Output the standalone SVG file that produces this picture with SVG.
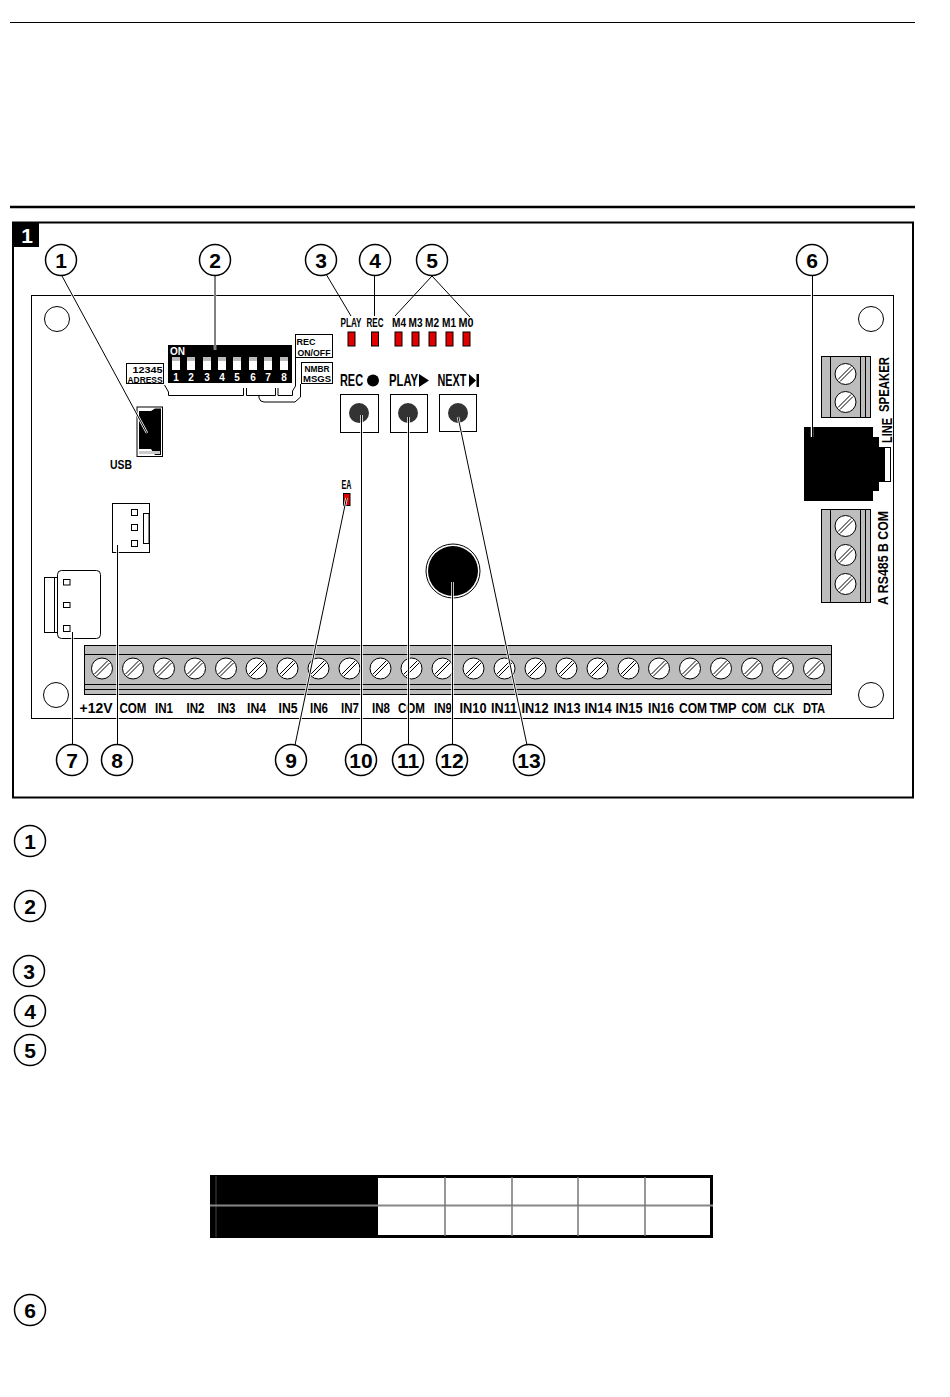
<svg xmlns="http://www.w3.org/2000/svg" xmlns:xlink="http://www.w3.org/1999/xlink" width="950" height="1397" viewBox="0 0 950 1397">
<style>
text{font-family:"Liberation Sans",Arial,sans-serif;font-weight:700;fill:#000}
.t{font-size:15.500px;text-anchor:middle}
.s{font-size:12px;text-anchor:middle}
.s2{font-size:9.500px;text-anchor:middle}
.b{font-size:16.500px;text-anchor:middle}
.n{font-size:21px;text-anchor:middle}
.c{fill:#fff;stroke:#000;stroke-width:1.500}
.o{fill:none;stroke:#000;stroke-width:1}
.box{fill:#fff;stroke:#000;stroke-width:1}
.led{fill:#e00000;stroke:#000;stroke-width:1}
.gray{fill:#bdbdbd;stroke:#000;stroke-width:1}
.pin{fill:#fff;stroke:#000;stroke-width:1}
.halo line{stroke:#fff;stroke-width:2.500}
.lead line{stroke:#000;stroke-width:1}
.sw{fill:#fff}
.swt{fill:#bbb}
.w{fill:#fff;font-size:10px;text-anchor:middle}
</style>
<defs>
<g id="screw"><circle r="10.500" fill="#fff" stroke="#000" stroke-width="1"/><line x1="-7.500" y1="5.500" x2="5.500" y2="-7.500" stroke="#000" stroke-width="1"/><line x1="-5.500" y1="7.500" x2="7.500" y2="-5.500" stroke="#000" stroke-width="1"/></g>
<g id="hole"><circle r="12.500" fill="#fff" stroke="#000" stroke-width="1"/></g>
</defs>
<rect width="950" height="1397" fill="#fff"/>
<g id="page-lines"><line x1="10" y1="22.500" x2="915" y2="22.500" stroke="#000" stroke-width="1"/><line x1="10" y1="207" x2="915" y2="207" stroke="#000" stroke-width="2.500"/></g>
<g id="frame"><rect x="13" y="222.500" width="900" height="575" fill="#fff" stroke="#000" stroke-width="2"/><rect x="12" y="222" width="27" height="25" fill="#000"/><text x="27" y="243" class="n" style="fill:#fff">1</text></g>
<g id="board"><rect x="31.500" y="295.500" width="862" height="423" fill="#fff" stroke="#000" stroke-width="1"/>
<use href="#hole" x="57" y="319"/><use href="#hole" x="871" y="319"/><use href="#hole" x="56" y="695"/><use href="#hole" x="871" y="695"/></g>

<g id="dip-switch">
<rect x="168" y="345" width="124" height="38" fill="#000"/>
<text x="170" y="355" style="fill:#fff;font-size:10px">ON</text>
<rect class="sw" x="172" y="357" width="8" height="13"/><rect class="sw" x="187" y="357" width="8" height="13"/><rect class="sw" x="203" y="357" width="8" height="13"/><rect class="sw" x="218" y="357" width="8" height="13"/><rect class="sw" x="233" y="357" width="8" height="13"/><rect class="sw" x="249" y="357" width="8" height="13"/><rect class="sw" x="264" y="357" width="8" height="13"/><rect class="sw" x="280" y="357" width="8" height="13"/>
<rect class="swt" x="172" y="357" width="8" height="4"/><rect class="swt" x="187" y="357" width="8" height="4"/><rect class="swt" x="203" y="357" width="8" height="4"/><rect class="swt" x="218" y="357" width="8" height="4"/><rect class="swt" x="233" y="357" width="8" height="4"/><rect class="swt" x="249" y="357" width="8" height="4"/><rect class="swt" x="264" y="357" width="8" height="4"/><rect class="swt" x="280" y="357" width="8" height="4"/>
<text class="w" x="176" y="381">1</text><text class="w" x="191" y="381">2</text><text class="w" x="207" y="381">3</text><text class="w" x="222" y="381">4</text><text class="w" x="237" y="381">5</text><text class="w" x="253" y="381">6</text><text class="w" x="268" y="381">7</text><text class="w" x="284" y="381">8</text>
<rect class="box" x="126.500" y="363.500" width="37" height="20"/>
<text class="s2" x="147.500" y="372.500" textLength="30" lengthAdjust="spacingAndGlyphs">12345</text><text class="s2" x="145" y="382.500" textLength="35" lengthAdjust="spacingAndGlyphs">ADRESS</text>
<rect class="box" x="295.500" y="334.500" width="37" height="23"/>
<text class="s2" x="306" y="344.500" textLength="19" lengthAdjust="spacingAndGlyphs">REC</text><text class="s2" x="314" y="355.500" textLength="33" lengthAdjust="spacingAndGlyphs">ON/OFF</text>
<rect class="box" x="301.500" y="362.500" width="31" height="21"/>
<text class="s2" x="317" y="371.500" textLength="25" lengthAdjust="spacingAndGlyphs">NMBR</text><text class="s2" x="317" y="382" textLength="28" lengthAdjust="spacingAndGlyphs">MSGS</text>
<path class="o" d="M164.500 385 L168.500 392 V395.500 H243.500 V388"/>
<path class="o" d="M246.500 388 V395.500 H275.500 V388"/>
<path class="o" d="M278 388 V395.500 H292.500 V391 L295.500 386 V358"/>
<path class="o" d="M259 396 V398 Q260 402 264 402 H295 L300.500 397 V384"/>
</g>

<g id="usb">
<rect x="137" y="407" width="25.500" height="49.500" fill="#fff" stroke="#000" stroke-width="1"/>
<path d="M139 411 H151 L155 408.500 H161 V455 H155 L151 449 H139 Z" fill="#000"/>
<rect x="139" y="451" width="21" height="3" fill="#ccc"/>
<text class="t" x="121" y="469" textLength="22" lengthAdjust="spacingAndGlyphs" style="font-size:13px">USB</text>
</g>

<g id="leds">
<text class="s" x="351" y="327" textLength="21" lengthAdjust="spacingAndGlyphs">PLAY</text><text class="s" x="375" y="327" textLength="17" lengthAdjust="spacingAndGlyphs">REC</text>
<text class="s" x="399" y="327" textLength="14" lengthAdjust="spacingAndGlyphs">M4</text><text class="s" x="415.500" y="327" textLength="14" lengthAdjust="spacingAndGlyphs">M3</text><text class="s" x="432" y="327" textLength="14" lengthAdjust="spacingAndGlyphs">M2</text><text class="s" x="449" y="327" textLength="14" lengthAdjust="spacingAndGlyphs">M1</text><text class="s" x="466" y="327" textLength="15" lengthAdjust="spacingAndGlyphs">M0</text>
<rect class="led" x="348" y="332" width="7" height="14"/><rect class="led" x="371.500" y="332" width="7" height="14"/><rect class="led" x="395" y="332" width="7" height="14"/><rect class="led" x="412" y="332" width="7" height="14"/><rect class="led" x="429" y="332" width="7" height="14"/><rect class="led" x="446" y="332" width="7" height="14"/><rect class="led" x="463" y="332" width="7" height="14"/>
</g>

<g id="buttons">
<text class="b" x="351.500" y="386" textLength="23" lengthAdjust="spacingAndGlyphs">REC</text><circle cx="373" cy="380.500" r="6" fill="#000"/>
<text class="b" x="403.500" y="386" textLength="29" lengthAdjust="spacingAndGlyphs">PLAY</text><path d="M419 374 L429 380.500 L419 387 Z" fill="#000"/>
<text class="b" x="452" y="386" textLength="29" lengthAdjust="spacingAndGlyphs">NEXT</text><path d="M469 374 L476 380.500 L469 387 Z M476.500 374 H479 V387 H476.500 Z" fill="#000"/>
<rect class="box" x="340.500" y="394.500" width="38" height="38"/><circle cx="359" cy="413" r="10" fill="#333"/>
<rect class="box" x="390.500" y="394.500" width="37" height="38"/><circle cx="408" cy="413" r="10" fill="#333"/>
<rect class="box" x="439.500" y="394.500" width="37" height="37"/><circle cx="458" cy="413" r="10" fill="#333"/>
</g>

<g id="ea-led"><text class="s" x="346.500" y="489" textLength="10" lengthAdjust="spacingAndGlyphs">EA</text><rect class="led" x="343.500" y="493.500" width="6.500" height="12"/></g>
<g id="microphone"><circle cx="453" cy="571" r="27" fill="#fff" stroke="#000" stroke-width="1"/><circle cx="453" cy="571" r="25" fill="#000"/></g>

<g id="connector-8"><rect class="box" x="112.500" y="503.500" width="37" height="49"/><rect class="pin" x="131.500" y="509.500" width="6" height="6"/><rect class="pin" x="131.500" y="524.500" width="6" height="6"/><rect class="pin" x="131.500" y="540.500" width="6" height="6"/><rect class="pin" x="143.500" y="513.500" width="5.500" height="30"/></g>
<g id="connector-7"><rect class="box" x="44.500" y="577.500" width="13" height="55"/><line x1="54.500" y1="577.500" x2="54.500" y2="632.500" stroke="#000"/><rect x="57.500" y="570.500" width="43" height="68" rx="4" fill="#fff" stroke="#000"/><rect class="pin" x="63.500" y="579.500" width="6.500" height="5.500"/><rect class="pin" x="63.500" y="602.500" width="6.500" height="5"/><rect class="pin" x="63.500" y="625.500" width="6.500" height="6"/></g>

<g id="terminal-main">
<rect class="gray" x="84.500" y="645.500" width="747" height="49"/>
<line x1="84.500" y1="654.500" x2="831.500" y2="654.500" stroke="#000"/><line x1="84.500" y1="684.500" x2="831.500" y2="684.500" stroke="#000"/><line x1="84.500" y1="689.500" x2="831.500" y2="689.500" stroke="#000"/>
<use href="#screw" x="102" y="668.500"/><use href="#screw" x="133" y="668.500"/><use href="#screw" x="164" y="668.500"/><use href="#screw" x="195" y="668.500"/><use href="#screw" x="226" y="668.500"/><use href="#screw" x="256.500" y="668.500"/><use href="#screw" x="287.500" y="668.500"/><use href="#screw" x="318.500" y="668.500"/><use href="#screw" x="349.500" y="668.500"/><use href="#screw" x="380.500" y="668.500"/><use href="#screw" x="411.500" y="668.500"/><use href="#screw" x="442.500" y="668.500"/><use href="#screw" x="473.500" y="668.500"/><use href="#screw" x="504.500" y="668.500"/><use href="#screw" x="535.500" y="668.500"/><use href="#screw" x="566.500" y="668.500"/><use href="#screw" x="597.500" y="668.500"/><use href="#screw" x="628.500" y="668.500"/><use href="#screw" x="659" y="668.500"/><use href="#screw" x="690" y="668.500"/><use href="#screw" x="721" y="668.500"/><use href="#screw" x="752" y="668.500"/><use href="#screw" x="783" y="668.500"/><use href="#screw" x="814" y="668.500"/>
<text class="t" x="96" y="713" textLength="33" lengthAdjust="spacingAndGlyphs">+12V</text>
<text class="t" x="133" y="713" textLength="27" lengthAdjust="spacingAndGlyphs">COM</text>
<text class="t" x="164" y="713" textLength="18" lengthAdjust="spacingAndGlyphs">IN1</text>
<text class="t" x="195.500" y="713" textLength="18" lengthAdjust="spacingAndGlyphs">IN2</text>
<text class="t" x="226.500" y="713" textLength="18" lengthAdjust="spacingAndGlyphs">IN3</text>
<text class="t" x="256.500" y="713" textLength="19" lengthAdjust="spacingAndGlyphs">IN4</text>
<text class="t" x="288" y="713" textLength="19" lengthAdjust="spacingAndGlyphs">IN5</text>
<text class="t" x="319" y="713" textLength="18" lengthAdjust="spacingAndGlyphs">IN6</text>
<text class="t" x="350" y="713" textLength="18" lengthAdjust="spacingAndGlyphs">IN7</text>
<text class="t" x="381" y="713" textLength="18" lengthAdjust="spacingAndGlyphs">IN8</text>
<text class="t" x="411.500" y="713" textLength="27" lengthAdjust="spacingAndGlyphs">COM</text>
<text class="t" x="443" y="713" textLength="18" lengthAdjust="spacingAndGlyphs">IN9</text>
<text class="t" x="473" y="713" textLength="27" lengthAdjust="spacingAndGlyphs">IN10</text>
<text class="t" x="504" y="713" textLength="26" lengthAdjust="spacingAndGlyphs">IN11</text>
<text class="t" x="535" y="713" textLength="27" lengthAdjust="spacingAndGlyphs">IN12</text>
<text class="t" x="567" y="713" textLength="27" lengthAdjust="spacingAndGlyphs">IN13</text>
<text class="t" x="598" y="713" textLength="27" lengthAdjust="spacingAndGlyphs">IN14</text>
<text class="t" x="629" y="713" textLength="27" lengthAdjust="spacingAndGlyphs">IN15</text>
<text class="t" x="661" y="713" textLength="26" lengthAdjust="spacingAndGlyphs">IN16</text>
<text class="t" x="693" y="713" textLength="28" lengthAdjust="spacingAndGlyphs">COM</text>
<text class="t" x="723" y="713" textLength="27" lengthAdjust="spacingAndGlyphs">TMP</text>
<text class="t" x="754" y="713" textLength="25" lengthAdjust="spacingAndGlyphs">COM</text>
<text class="t" x="784" y="713" textLength="21" lengthAdjust="spacingAndGlyphs">CLK</text>
<text class="t" x="814" y="713" textLength="22" lengthAdjust="spacingAndGlyphs">DTA</text>
</g>

<g id="terminal-speaker">
<rect class="gray" x="821.500" y="356.500" width="49" height="61"/>
<path class="o" d="M830.500 356.500 V417.500 M860.500 356.500 V417.500 M865.500 356.500 V417.500"/>
<use href="#screw" x="845.500" y="374"/><use href="#screw" x="845.500" y="402"/>
<text class="t" transform="translate(889 384.500) rotate(-90)" textLength="55" lengthAdjust="spacingAndGlyphs">SPEAKER</text>
<text class="t" transform="translate(892 430.500) rotate(-90)" textLength="25" lengthAdjust="spacingAndGlyphs">LINE</text>
</g>
<g id="jack">
<path d="M804 427 H873 V437 H879 V447 H884 V482 H879 V491 H873 V501 H804 Z" fill="#000"/>
<rect x="884.500" y="447.500" width="6" height="34" fill="#fff" stroke="#000"/>
</g>
<g id="terminal-rs485">
<rect class="gray" x="821.500" y="509.500" width="49" height="93"/>
<path class="o" d="M830.500 509.500 V602.500 M860.500 509.500 V602.500 M865.500 509.500 V602.500"/>
<use href="#screw" x="845.500" y="526"/><use href="#screw" x="845.500" y="555"/><use href="#screw" x="845.500" y="584"/>
<text class="t" transform="translate(888 558) rotate(-90)" textLength="94" lengthAdjust="spacingAndGlyphs">A RS485 B COM</text>
</g>

<g id="connectors">
<g class="halo">
<line x1="62" y1="276" x2="147" y2="433"/><line x1="215" y1="276" x2="215" y2="350"/><line x1="812" y1="276" x2="812" y2="437"/>
<line x1="72.500" y1="632" x2="72.500" y2="745"/><line x1="117.500" y1="545" x2="117.500" y2="745"/>
<line x1="295" y1="745" x2="346.500" y2="498"/><line x1="361.500" y1="415" x2="361.500" y2="745"/><line x1="408.500" y1="417" x2="408.500" y2="745"/><line x1="452.500" y1="582" x2="452.500" y2="745"/><line x1="458" y1="417" x2="527" y2="745"/>
</g>
<g class="lead">
<line x1="62" y1="276" x2="147" y2="433"/><line x1="215" y1="276" x2="215" y2="350"/>
<line x1="326" y1="274" x2="351" y2="316"/><line x1="374.500" y1="276" x2="374.500" y2="316"/><line x1="432" y1="276" x2="395" y2="316"/><line x1="432" y1="276" x2="470" y2="317"/>
<line x1="812.500" y1="276" x2="812.500" y2="437"/>
<line x1="72.500" y1="632" x2="72.500" y2="745"/><line x1="117.500" y1="545" x2="117.500" y2="745"/>
<line x1="295" y1="745" x2="346.500" y2="498"/><line x1="361.500" y1="415" x2="361.500" y2="745"/><line x1="408.500" y1="417" x2="408.500" y2="745"/><line x1="452.500" y1="582" x2="452.500" y2="745"/><line x1="458" y1="417" x2="527" y2="745"/>
</g>
</g>

<g id="callout-1"><circle class="c" cx="61" cy="260" r="15.500"/><text class="n" x="61" y="267.500">1</text></g>
<g id="callout-2"><circle class="c" cx="215" cy="260" r="15.500"/><text class="n" x="215" y="267.500">2</text></g>
<g id="callout-3"><circle class="c" cx="321" cy="260" r="15.500"/><text class="n" x="321" y="267.500">3</text></g>
<g id="callout-4"><circle class="c" cx="375" cy="260" r="15.500"/><text class="n" x="375" y="267.500">4</text></g>
<g id="callout-5"><circle class="c" cx="432" cy="260" r="15.500"/><text class="n" x="432" y="267.500">5</text></g>
<g id="callout-6"><circle class="c" cx="812" cy="260" r="15.500"/><text class="n" x="812" y="267.500">6</text></g>
<g id="callout-7"><circle class="c" cx="72" cy="760" r="15.500"/><text class="n" x="72" y="767.500">7</text></g>
<g id="callout-8"><circle class="c" cx="117" cy="760" r="15.500"/><text class="n" x="117" y="767.500">8</text></g>
<g id="callout-9"><circle class="c" cx="291" cy="760" r="15.500"/><text class="n" x="291" y="767.500">9</text></g>
<g id="callout-10"><circle class="c" cx="361" cy="760" r="15.500"/><text class="n" x="361" y="767.500">10</text></g>
<g id="callout-11"><circle class="c" cx="408" cy="760" r="15.500"/><text class="n" x="408" y="767.500">11</text></g>
<g id="callout-12"><circle class="c" cx="452" cy="760" r="15.500"/><text class="n" x="452" y="767.500">12</text></g>
<g id="callout-13"><circle class="c" cx="529" cy="760" r="15.500"/><text class="n" x="529" y="767.500">13</text></g>

<g id="legend-1"><circle class="c" cx="30" cy="841" r="15.500"/><text class="n" x="30" y="848.500">1</text></g>
<g id="legend-2"><circle class="c" cx="30" cy="906" r="15.500"/><text class="n" x="30" y="913.500">2</text></g>
<g id="legend-3"><circle class="c" cx="29" cy="971" r="15.500"/><text class="n" x="29" y="978.500">3</text></g>
<g id="legend-4"><circle class="c" cx="30" cy="1011" r="15.500"/><text class="n" x="30" y="1018.500">4</text></g>
<g id="legend-5"><circle class="c" cx="30" cy="1050" r="15.500"/><text class="n" x="30" y="1057.500">5</text></g>
<g id="legend-6"><circle class="c" cx="30" cy="1310" r="15.500"/><text class="n" x="30" y="1317.500">6</text></g>

<g id="table">
<rect x="211.500" y="1176.500" width="500" height="60" fill="#fff" stroke="#000" stroke-width="3"/>
<rect x="210" y="1175" width="168" height="63" fill="#000"/>
<line x1="216" y1="1176" x2="216" y2="1237" stroke="#444" stroke-width="1"/>
<line x1="210" y1="1205.500" x2="713" y2="1205.500" stroke="#888" stroke-width="2"/>
<path d="M445 1177 V1236 M512 1177 V1236 M578 1177 V1236 M645 1177 V1236" stroke="#777" stroke-width="1.500" fill="none"/>
</g>
</svg>
